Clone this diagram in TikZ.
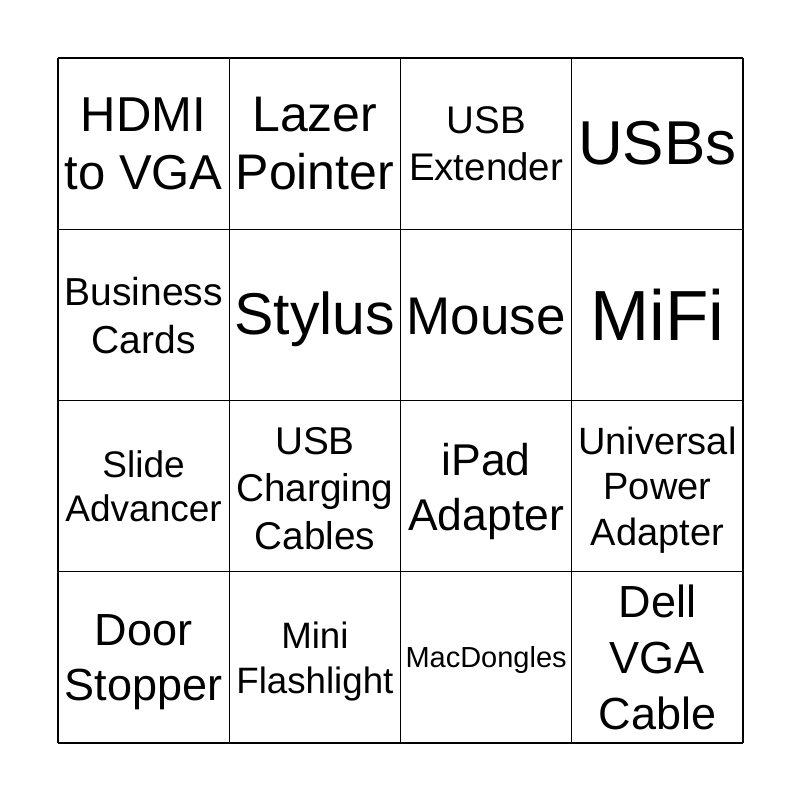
\documentclass[tikz,border=0pt]{standalone}
\usepackage{fontspec}
\setmainfont{Liberation Sans}
\newcommand{\fs}[2]{\fontsize{#1bp}{#2bp}\selectfont}
\begin{document}
\begin{tikzpicture}[x=1bp,y=-1bp,
  cell/.style={align=center,inner sep=0pt,text=black},
  gridline/.style={draw=black,line width=1.2bp}]
\useasboundingbox[fill=white] (0,0) rectangle (800,800);
\foreach \v in {58,229.25,400.5,571.75,743} {
  \draw[gridline] (\v,58) -- (\v,743);
  \draw[gridline] (58,\v) -- (743,\v);
}
% row 1
\node[cell,font=\fs{49}{58}] (c11) at (143.6,143.6) {HDMI\\to VGA};
\node[cell,font=\fs{50}{58}] (c12) at (314.9,143.6) {Lazer\\Pointer};
\node[cell,font=\fs{38.5}{47}] (c13) at (486.1,143.6) {USB\\Extender};
\node[cell,font=\fs{62}{70}] (c14) at (657.4,143.6) {USBs};
% row 2
\node[cell,font=\fs{39}{48}] (c21) at (143.6,315.5) {Business\\Cards};
\node[cell,font=\fs{59}{66}] (c22) at (314.9,319.5) {Stylus};
\node[cell,font=\fs{53}{60}] (c23) at (486.1,316.9) {Mouse};
\node[cell,font=\fs{71}{80}] (c24) at (657.4,314.9) {MiFi};
% row 3
\node[cell,font=\fs{37}{44}] (c31) at (143.6,486.1) {Slide\\Advancer};
\node[cell,font=\fs{38.7}{47.5}] (c32) at (314.9,488.3) {USB\\Charging\\Cables};
\node[cell,font=\fs{44.5}{55}] (c33) at (486.1,491) {iPad\\Adapter};
\node[cell,font=\fs{38}{45.5}] (c34) at (657.4,490.1) {Universal\\Power\\Adapter};
% row 4
\node[cell,font=\fs{45}{55}] (c41) at (143.6,662.4) {Door\\Stopper};
\node[cell,font=\fs{36.7}{45}] (c42) at (314.9,661.4) {Mini\\Flashlight};
\node[cell,font=\fs{29}{34}] (c43) at (486.1,660.4) {MacDongles};
\node[cell,font=\fs{45}{56}] (c44) at (657.4,657.4) {Dell\\VGA\\Cable};
\end{tikzpicture}
\end{document}
